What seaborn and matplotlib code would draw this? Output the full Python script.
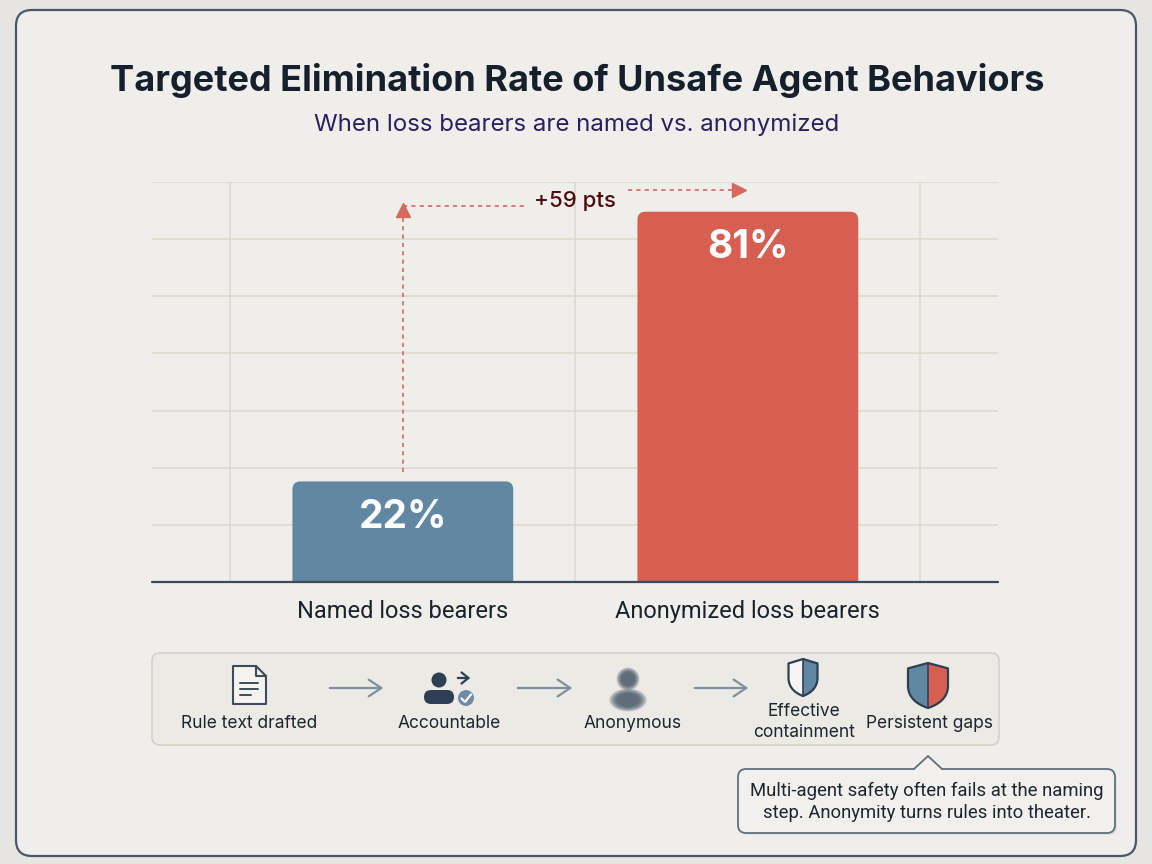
import numpy as np
import pandas as pd
import matplotlib
matplotlib.use("Agg")
import matplotlib.pyplot as plt
import seaborn as sns
from matplotlib.patches import FancyBboxPatch, Polygon, Circle, Ellipse, FancyArrowPatch

# ---------------- data ----------------
categories = ["Named loss bearers", "Anonymized loss bearers"]
values = [22, 81]
bar_colors = ["#6287a3", "#d65f52"]
title = "Targeted Elimination Rate of Unsafe Agent Behaviors"
subtitle = "When loss bearers are named vs. anonymized"
flow_labels = ["Rule text drafted", "Accountable", "Anonymous", "Effective\ncontainment", "Persistent gaps"]
callout_text = "Multi-agent safety often fails at the naming\nstep. Anonymity turns rules into theater."

sns.set_theme(style="white")
plt.rcParams["font.family"] = ["Inter", "DejaVu Sans"]

W, H = 1152, 864
fig = plt.figure(figsize=(W / 100, H / 100), dpi=100)
fig.patch.set_facecolor("#e6e5e1")

# background card
bg = fig.add_axes([0, 0, 1, 1], zorder=0)
bg.set_xlim(0, W); bg.set_ylim(H, 0); bg.axis("off")
bg.add_patch(FancyBboxPatch((16, 10), 1120, 846, boxstyle="round,pad=0,rounding_size=16",
                            fc="#efeeeb", ec="#4a5669", lw=1.6))

# ---------------- main chart ----------------
ax = fig.add_axes([152 / W, 1 - 582 / H, (998 - 152) / W, (582 - 182) / H], zorder=1)
ax.set_facecolor("none")
df = pd.DataFrame({"cat": categories, "val": values})
sns.barplot(data=df, x="cat", y="val", hue="cat", palette=bar_colors, width=0.64,
            legend=False, ax=ax, saturation=1)

ax.set_xlim(-0.727, 1.725)
ax.set_ylim(0, 87.5)
ax.set_yticks(np.arange(12.5, 87.6, 12.5))
ax.set_yticklabels([])
ax.set_xticks([-0.5, 0.5, 1.5], minor=True)
ax.tick_params(axis="y", length=0)
ax.tick_params(axis="x", which="both", length=0)
ax.tick_params(axis="x", which="major", pad=13, labelsize=16.5, labelcolor="#1a222c")
for t in ax.get_xticklabels():
    t.set_family(["Roboto", "DejaVu Sans"])
    t.set_fontsize(17)
ax.grid(True, axis="y", color="#ddd7ce", lw=1.1)
ax.grid(True, axis="x", which="minor", color="#ddd7ce", lw=1.1)
ax.set_axisbelow(True)
for s in ax.spines.values():
    s.set_visible(False)
ax.set_xlabel(""); ax.set_ylabel("")
ax.axhline(0, color="#3c4a5c", lw=1.6, zorder=5, clip_on=False)

# rounded bar tops
px_per_x = (998 - 152) / (1.725 + 0.727)
px_per_y = (582 - 182) / 87.5
r = 8
bars = list(ax.patches)
for p in bars:
    x0, w, h = p.get_x(), p.get_width(), p.get_height()
    fb = FancyBboxPatch((x0, -5), w, h + 5,
                        boxstyle=f"round,pad=0,rounding_size={r / px_per_x}",
                        mutation_aspect=px_per_x / px_per_y,
                        fc=p.get_facecolor(), ec="none", zorder=3)
    ax.add_patch(fb)
    p.set_visible(False)
    ax.text(x0 + w / 2, h - 36 / px_per_y, f"{int(h)}%", ha="center", va="center",
            color="white", fontsize=28, fontweight="bold", zorder=6)

# delta annotation
ac = "#d4695e"
dash = (0, (2.5, 2.5))
ax.plot([0, 0], [values[0] + 2, 81.5], color=ac, lw=1.2, ls=dash, zorder=4, clip_on=False)
ax.plot([0], [81.3], marker="^", color=ac, ms=10, zorder=4, clip_on=False)
ax.plot([0, 0.354], [82.2, 82.2], color=ac, lw=1.2, ls=dash, zorder=4, clip_on=False)
ax.text(0.50, 83.4, f"+{values[1] - values[0]} pts", ha="center", va="center",
        fontsize=16, fontweight="medium", color="#4e0c0c", zorder=6)
ax.plot([0.652, 0.975], [85.7, 85.7], color=ac, lw=1.2, ls=dash, zorder=4, clip_on=False)
ax.plot([0.975], [85.7], marker=">", color=ac, ms=10, zorder=4, clip_on=False)

# ---------------- overlay: titles, flow, callout ----------------
ov = fig.add_axes([0, 0, 1, 1], zorder=2)
ov.set_xlim(0, W); ov.set_ylim(H, 0); ov.axis("off"); ov.set_facecolor("none")

ov.text(577, 80, title, ha="center", va="center", fontsize=26, fontweight="bold", color="#15202c")
ov.text(577, 125, subtitle, ha="center", va="center", fontsize=17.3, color="#2a2060")

# flow panel
ov.add_patch(FancyBboxPatch((152, 653), 847, 92, boxstyle="round,pad=0,rounding_size=8",
                            fc="#ebeae5", ec="#d6d2ca", lw=1.2))
dark = "#2e3f54"
# document icon
doc = [(233, 666), (256, 666), (266, 676), (266, 704), (233, 704)]
ov.add_patch(Polygon(doc, closed=True, fc="#f4f3ef", ec="#3c4c5e", lw=1.5, joinstyle="round"))
ov.plot([256, 256, 266], [666, 676, 676], color="#3c4c5e", lw=1.5)
for yy, xe in [(683, 258), (689, 258), (695, 251)]:
    ov.plot([240, xe], [yy, yy], color="#3c4c5e", lw=1.4, solid_capstyle="round")

# arrows
for xa, xb in [(327, 386), (515, 575), (692, 751)]:
    ov.add_patch(FancyArrowPatch((xa, 688), (xb, 688), arrowstyle="->,head_length=9,head_width=6",
                                 color="#7d90a2", lw=1.6, mutation_scale=1))

# accountable icon
ov.add_patch(Circle((439, 680), 7.5, fc=dark, ec="none"))
ov.add_patch(FancyBboxPatch((424, 690), 30, 14, boxstyle="round,pad=0,rounding_size=7", fc=dark, ec="none"))
ov.add_patch(FancyArrowPatch((455, 678), (473, 678), arrowstyle="->,head_length=5,head_width=4",
                             color=dark, lw=1.6, mutation_scale=1))
ov.add_patch(Circle((466, 698), 9, fc="#6f8aa3", ec="#ebeae5", lw=1.5))
ov.plot([461.5, 465, 471], [698.5, 702, 694.5], color="white", lw=1.6, solid_capstyle="round")

# anonymous (blurred) icon
for k in np.linspace(1.45, 0.85, 10):
    ov.add_patch(Circle((628, 679), 8 * k, fc="#34465a", ec="none", alpha=0.13))
    ov.add_patch(Ellipse((628, 700), 26 * k, 16 * k, fc="#34465a", ec="none", alpha=0.13))


def shield(cx, top, w, h):
    t = np.linspace(0, 1, 30)
    p0 = np.array([w / 2, 0.5 * h]); p1 = np.array([w / 2, 0.85 * h]); p2 = np.array([0, h])
    curve = ((1 - t) ** 2)[:, None] * p0 + (2 * (1 - t) * t)[:, None] * p1 + (t ** 2)[:, None] * p2
    right = [(0, 0), (w / 2, 0.12 * h)] + [tuple(c) for c in curve]
    right = [(cx + x, top + y) for x, y in right]
    left = [(2 * cx - x, y) for x, y in right]
    return left, right


for cx, top, w, h, lc, rc in [(803, 659, 29, 37, "#f6f5f2", "#6287a3"),
                              (928, 663, 40, 45, "#6287a3", "#d65f52")]:
    left, right = shield(cx, top, w, h)
    ov.add_patch(Polygon(left, closed=True, fc=lc, ec="none"))
    ov.add_patch(Polygon(right, closed=True, fc=rc, ec="none"))
    outline = left + right[::-1]
    ov.add_patch(Polygon(outline, closed=True, fc="none", ec=dark, lw=1.6, joinstyle="round"))
    ov.plot([cx, cx], [top, top + h], color=dark, lw=1.2)

label_pos = [(249, 724), (449, 724), (633, 724), (804, 722), (929, 724)]
for (lx, ly), lab in zip(label_pos, flow_labels):
    ov.text(lx, ly, lab, ha="center", va="center", fontsize=12.5, color="#1d2530", linespacing=1.3)

# callout
ov.add_patch(FancyBboxPatch((740, 771), 377, 64, boxstyle="round,pad=0,rounding_size=8",
                            fc="#d9d8d4", ec="none", alpha=0.6))
ov.add_patch(FancyBboxPatch((738, 769), 377, 64, boxstyle="round,pad=0,rounding_size=8",
                            fc="#f1f0ec", ec="#5f6f80", lw=1.3))
ov.add_patch(Polygon([(914, 770), (928, 756), (942, 770)], closed=True, fc="#f1f0ec", ec="none", zorder=3))
ov.plot([914, 928, 942], [769, 756, 769], color="#5f6f80", lw=1.3, zorder=4)
ov.text(927, 802, callout_text, ha="center", va="center", fontsize=13.3, color="#1d2530",
        linespacing=1.25, zorder=5, family=["Roboto", "DejaVu Sans"])

fig.savefig("out.png", dpi=100, facecolor=fig.get_facecolor())
